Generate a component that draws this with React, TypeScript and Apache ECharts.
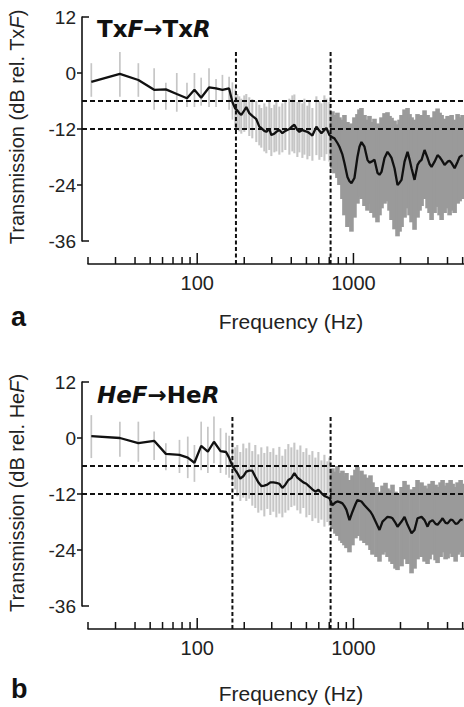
import React, { useEffect, useRef } from "react";
import * as echarts from "echarts";

// ---------- axes and reference marks ----------
const yTickValues = [12, 0, -12, -24, -36];
const yEndTicks = [12, -36];
const xMajorTicks = [100, 1000];
const xMinorTicks = [20, 30, 40, 50, 60, 70, 80, 90, 200, 300, 400, 500, 600, 700, 800, 900, 2000, 3000, 4000, 5000];
const xLabelValues = [100, 1000];
const refLevels = [-6, -12];
const cutoffTopLevel = 4.5;
const topCutoffs = [177, 714];
const botCutoffs = [168, 714];
const darkFromHz = 714;
const X_MIN = 20;
const X_MAX = 5100;
const Y_MIN = -36;
const Y_MAX = 12;

// ---------- panel a : TxF -> TxR ----------
const topFreq = [
  21, 32, 42, 53, 63, 74, 86, 96, 106, 119, 132, 145, 160, 168, 175,
  180.5, 185.9, 191.5, 200.1, 206.1, 215.4, 225.2, 238.9, 249.7, 257.2, 268.9, 276.9, 289.4, 298.2, 311.7,
  321.0, 335.5, 350.7, 366.5, 388.8, 406.4, 418.6, 437.5, 450.7, 471.1, 485.3, 507.3, 522.4, 546.0, 579.2,
  605.4, 623.6, 651.8, 671.4, 701.8,
  733.5, 755.5, 789.7, 813.5, 850.3, 875.8, 915.4, 943.0, 971.0, 1014.8, 1060.7, 1092.7, 1125.4, 1176.4,
  1229.6, 1266.6, 1304.5, 1363.5, 1425.0, 1467.9, 1512.0, 1580.4, 1651.9, 1701.6, 1752.5, 1831.7, 1914.6,
  1972.2, 2031.4, 2123.3, 2219.4, 2285.7, 2354.1, 2460.2, 2571.5, 2648.6, 2728.0, 2851.4, 2981.2, 3070.4,
  3162.3, 3305.3, 3455.2, 3558.8, 3665.5, 3831.2, 4004.7, 4124.6, 4248.6, 4440.9, 4641.6, 4780.6, 4996.9,
];
const topMean = [
  -1.9, -0.2, -1.5, -3.6, -3.5, -4.5, -5.4, -3.6, -5.3, -3.1, -3.3, -3.6, -3.3, -6.2, -7.6,
  -8.0, -8.6, -9.0, -8.0, -7.3, -8.6, -9.2, -9.9, -11.5, -11.8, -12.4, -12.6, -12.0, -13.3, -13.0,
  -12.6, -12.2, -12.9, -12.4, -12.0, -11.4, -11.1, -12.2, -12.6, -12.2, -12.4, -12.6, -12.9, -13.4, -11.5,
  -12.4, -12.9, -12.2, -11.8, -13.3,
  -13.8, -14.0, -15.0, -15.8, -17.5, -19.3, -22.3, -23.2, -23.6, -22.5, -18.0, -15.8, -14.8, -15.8,
  -18.6, -19.2, -19.0, -18.6, -21.4, -21.8, -21.2, -18.2, -16.9, -17.5, -18.2, -20.4, -24.0,
  -23.5, -22.9, -19.0, -16.9, -18.5, -20.4, -22.9, -19.7, -19.0, -18.6, -16.5, -18.2, -19.5,
  -20.1, -19.0, -17.6, -18.0, -18.6, -19.7, -19.0, -18.8, -19.3, -20.4, -19.0, -18.0, -17.6,
];
const topHi = [
  2.1, 4.5, 2.1, 1.0, -2.1, 0.0, -2.1, 0.0, -1.0, 1.0, -1.3, -0.4, -0.8, -2.0, -3.5,
  -4.5, -5.0, -5.5, -4.8, -4.5, -5.2, -5.6, -6.0, -6.8, -7.5, -6.5, -7.2, -6.0, -7.5, -6.8,
  -6.0, -7.2, -6.5, -6.0, -5.5, -4.8, -4.6, -6.2, -5.8, -6.5, -5.5, -7.0, -6.0, -7.5, -5.0,
  -6.0, -6.5, -4.8, -5.5, -6.2,
  -8.2, -9.0, -8.5, -9.5, -10.0, -9.0, -10.5, -11.5, -10.8, -9.5, -8.8, -7.8, -7.5, -9.0,
  -10.0, -9.2, -10.5, -9.8, -10.8, -11.0, -9.5, -8.6, -8.4, -9.2, -9.6, -10.2, -11.0,
  -10.0, -9.0, -7.8, -7.5, -8.8, -9.5, -10.0, -8.8, -9.2, -9.0, -8.0, -9.0, -9.8,
  -9.5, -8.2, -7.6, -8.5, -9.0, -9.8, -9.2, -9.5, -9.0, -10.0, -8.8, -9.5, -9.0,
];
const topLo = [
  -5.1, -5.1, -5.1, -7.9, -7.9, -8.3, -7.3, -7.3, -7.0, -7.3, -7.3, -5.8, -7.9, -10.0, -11.5,
  -12.0, -12.5, -13.0, -12.6, -12.0, -13.5, -14.0, -14.8, -15.5, -16.0, -16.8, -17.2, -16.5, -17.8, -17.0,
  -16.8, -17.5, -17.0, -16.5, -17.5, -16.8, -17.2, -18.0, -17.0, -18.2, -17.5, -18.5, -17.8, -18.8, -17.6,
  -18.6, -18.0, -18.8, -17.4, -19.0,
  -20.5, -21.5, -22.5, -24.0, -27.0, -30.5, -33.0, -32.0, -34.0, -31.0, -28.0, -26.5, -27.0, -28.5,
  -29.5, -28.0, -30.0, -31.0, -32.0, -30.5, -29.0, -28.0, -27.5, -29.5, -31.5, -33.5, -35.0,
  -34.0, -33.0, -31.0, -29.0, -30.5, -32.0, -33.6, -31.0, -29.5, -28.5, -27.0, -29.0, -30.0,
  -31.5, -30.0, -28.7, -30.5, -31.5, -30.0, -29.0, -30.5, -29.5, -30.0, -28.0, -27.5, -27.0,
];

// ---------- panel b : HeF -> HeR ----------
const botFreq = [
  21, 32, 42, 53, 63, 77, 87, 96, 106, 117, 128, 141, 153, 160, 168,
  175.2, 180.5, 188.7, 197.2, 206.1, 215.4, 225.2, 235.4, 246.0, 257.2, 268.9, 281.0, 293.8, 307.1, 321.0,
  335.5, 350.7, 366.5, 383.1, 400.5, 418.6, 437.5, 457.4, 478.1, 499.7, 522.4, 546.0, 570.7, 596.5, 623.6,
  651.8, 681.3, 701.8,
  733.5, 766.8, 789.7, 825.4, 850.3, 875.8, 902.1, 943.0, 985.4, 1030.0, 1060.7, 1125.4, 1176.4, 1229.6,
  1285.4, 1323.8, 1404.2, 1467.9, 1534.5, 1604.2, 1651.9, 1726.9, 1778.3, 1858.9, 1914.6, 2031.4, 2123.3,
  2219.4, 2354.1, 2460.2, 2571.5, 2728.0, 2851.4, 2981.2, 3070.4, 3209.9, 3354.9, 3455.2, 3611.7, 3719.8,
  3888.0, 4004.7, 4186.4, 4311.7, 4507.3, 4641.6, 4852.0, 4996.9,
];
const botMean = [
  0.4, 0.0, -1.1, -0.6, -3.4, -3.6, -4.2, -5.3, -1.7, -2.9, -0.8, -2.8, -3.0, -4.2, -6.0,
  -6.9, -7.5, -8.7, -8.2, -7.2, -7.0, -7.0, -8.3, -9.5, -10.3, -10.2, -10.0, -9.5, -9.5, -9.6,
  -9.8, -10.7, -10.0, -9.0, -8.6, -7.5, -8.5, -9.0, -9.5, -9.8, -10.4, -11.0, -11.5, -11.1, -11.8,
  -12.4, -12.7, -12.9,
  -14.4, -13.8, -13.6, -13.8, -14.0, -14.6, -15.4, -17.6, -15.8, -14.2, -13.3, -13.6, -14.4, -15.1,
  -15.8, -16.5, -18.3, -19.7, -17.9, -17.3, -16.9, -17.0, -17.2, -18.2, -19.0, -17.9, -16.9,
  -18.6, -20.4, -19.7, -17.2, -16.9, -17.6, -19.0, -18.0, -17.6, -18.4, -18.6, -17.8, -17.2,
  -18.2, -18.3, -17.5, -17.6, -18.4, -18.3, -17.5, -17.6,
];
const botHi = [
  4.9, 3.5, 3.5, 1.4, -1.1, -0.4, 0.3, -1.5, 3.5, 2.4, 4.6, 2.1, 1.1, 0.5, -1.0,
  -2.0, -1.5, -3.0, -1.2, -2.2, -1.0, -2.8, -1.5, -3.5, -2.0, -3.2, -1.8, -3.0, -2.2, -3.6,
  -1.9, -3.8, -2.4, -1.3, -2.0, -1.0, -2.5, -1.6, -3.0, -2.2, -3.6, -2.8, -4.2, -3.0, -4.8,
  -3.6, -5.0, -4.2,
  -6.5, -7.2, -6.0, -7.5, -7.0, -8.2, -7.5, -9.0, -8.0, -6.8, -6.2, -7.0, -7.8, -8.5,
  -8.0, -9.5, -10.5, -11.5, -10.2, -9.6, -10.8, -11.2, -10.0, -11.5, -12.0, -10.5, -9.2,
  -10.0, -11.0, -10.5, -9.0, -9.5, -10.2, -10.8, -9.8, -9.2, -10.0, -10.5, -9.5, -9.0,
  -10.2, -9.6, -9.0, -9.8, -10.5, -9.5, -9.0, -9.8,
];
const botLo = [
  -4.3, -4.0, -5.1, -4.7, -6.9, -7.5, -8.6, -9.4, -6.9, -7.5, -5.4, -7.5, -7.9, -8.5, -10.0,
  -11.0, -12.5, -13.5, -12.8, -13.5, -13.0, -14.5, -15.0, -16.0, -15.5, -16.8, -15.2, -16.5, -15.8, -17.0,
  -16.2, -17.0, -16.0, -15.5, -14.8, -14.5, -15.5, -16.2, -15.0, -17.0, -16.5, -17.8, -17.2, -18.2, -17.5,
  -19.0, -18.0, -18.8,
  -19.5, -20.5, -21.0, -22.0, -22.5, -23.0, -23.6, -24.5, -23.0, -21.5, -21.0, -22.0, -22.5, -23.0,
  -24.0, -25.0, -25.5, -26.5, -25.0, -24.5, -25.5, -26.5, -27.0, -28.0, -28.3, -27.5, -26.0,
  -27.0, -29.0, -28.0, -26.0, -25.5, -26.5, -27.0, -26.0, -25.0, -26.2, -26.8, -25.5, -24.5,
  -26.0, -25.8, -24.8, -25.5, -26.5, -25.0, -24.5, -25.5,
];

// ---------- layout / style ----------
const FONT = "'Liberation Sans', Arial, Helvetica, sans-serif";
const TITLE_FONT = "'DejaVu Sans', sans-serif";
const INK = "#111";
const TEXT = "#222";
const GRID_LEFT = 88;
const Y_AXIS_OFFSET = 6;
const X_AXIS_OFFSET = 23;
const GRID_TOPS = [17, 382];
const GRID_HEIGHT = 224;

function panelSeries(i: number, freq: number[], mean: number[], hi: number[], lo: number[], cutoffs: number[]) {
  const common = { xAxisIndex: i, yAxisIndex: i, silent: true, clip: false };
  return [
    {
      ...common,
      type: "custom",
      z: 1,
      data: freq.map((f, k) => [f, lo[k], hi[k]]),
      encode: { x: 0, y: [1, 2] },
      renderItem: (_p: any, api: any) => {
        const f = api.value(0);
        const a = api.coord([f, api.value(1)]);
        const b = api.coord([f, api.value(2)]);
        const dark = f > darkFromHz;
        const mid = f > 175 && !dark;
        return {
          type: "line",
          shape: { x1: a[0], y1: a[1], x2: b[0], y2: b[1] },
          style: { stroke: dark ? "#9a9a9a" : "#c6c6c6", lineWidth: dark ? 4.6 : mid ? 2.1 : 1.7 },
        };
      },
    },
    {
      ...common,
      type: "custom",
      z: 2,
      data: refLevels.map((v) => [X_MIN, v]),
      encode: { x: 0, y: 1 },
      renderItem: (_p: any, api: any) => {
        const v = api.value(1);
        const a = api.coord([X_MIN, v]);
        const b = api.coord([X_MAX, v]);
        return {
          type: "line",
          shape: { x1: a[0] - Y_AXIS_OFFSET, y1: a[1], x2: b[0], y2: b[1] },
          style: { stroke: INK, lineWidth: 1.8, lineDash: [5, 3] },
        };
      },
    },
    {
      ...common,
      type: "custom",
      z: 2,
      data: cutoffs.map((f) => [f, cutoffTopLevel]),
      encode: { x: 0, y: 1 },
      renderItem: (_p: any, api: any) => {
        const f = api.value(0);
        const a = api.coord([f, api.value(1)]);
        const b = api.coord([f, Y_MIN]);
        return {
          type: "line",
          shape: { x1: a[0], y1: a[1], x2: b[0], y2: b[1] + X_AXIS_OFFSET },
          style: { stroke: INK, lineWidth: 2, lineDash: [4, 2.5] },
        };
      },
    },
    {
      ...common,
      type: "line",
      z: 3,
      data: freq.map((f, k) => [f, mean[k]]),
      showSymbol: false,
      symbol: "none",
      lineStyle: { color: INK, width: 2.3 },
    },
    {
      ...common,
      type: "custom",
      z: 4,
      data: [...xMinorTicks.map((f) => [f, Y_MIN, 0]), ...xMajorTicks.map((f) => [f, Y_MIN, 1])],
      encode: { x: 0, y: 1 },
      renderItem: (_p: any, api: any) => {
        const p = api.coord([api.value(0), Y_MIN]);
        const y = p[1] + X_AXIS_OFFSET;
        const len = api.value(2) ? 11 : 7;
        return {
          type: "line",
          shape: { x1: p[0], y1: y, x2: p[0], y2: y - len },
          style: { stroke: INK, lineWidth: 1.5 },
        };
      },
    },
    {
      ...common,
      type: "custom",
      z: 4,
      data: yTickValues.map((v) => [X_MIN, v]),
      encode: { x: 0, y: 1 },
      renderItem: (_p: any, api: any) => {
        const v = api.value(1);
        const p = api.coord([X_MIN, v]);
        const ax = p[0] - Y_AXIS_OFFSET;
        const isEnd = yEndTicks.indexOf(v) >= 0;
        return {
          type: "line",
          shape: isEnd ? { x1: ax, y1: p[1], x2: ax + 7, y2: p[1] } : { x1: ax - 5, y1: p[1], x2: ax, y2: p[1] },
          style: { stroke: INK, lineWidth: 1.5 },
        };
      },
    },
  ];
}

function buildOption() {
  const grid = GRID_TOPS.map((top) => ({ left: GRID_LEFT, right: 0, top, height: GRID_HEIGHT }));
  const xAxis = [0, 1].map((i) => ({
    type: "log",
    logBase: 10,
    gridIndex: i,
    min: X_MIN,
    max: X_MAX,
    offset: X_AXIS_OFFSET,
    axisLine: { show: true, onZero: false, lineStyle: { color: INK, width: 1.6 } },
    axisTick: { show: false },
    minorTick: { show: false },
    splitLine: { show: false },
    axisLabel: {
      fontSize: 20,
      color: TEXT,
      fontFamily: FONT,
      margin: 9,
      showMinLabel: false,
      showMaxLabel: false,
      formatter: (v: number) => {
        const m = xLabelValues.find((t) => Math.abs(v - t) / t < 0.01);
        return m ? String(m) : "";
      },
    },
  }));
  const yAxis = [0, 1].map((i) => ({
    type: "value",
    gridIndex: i,
    min: Y_MIN,
    max: Y_MAX,
    interval: 12,
    offset: Y_AXIS_OFFSET,
    axisLine: { show: true, onZero: false, lineStyle: { color: INK, width: 1.6 } },
    axisTick: { show: false },
    splitLine: { show: false },
    axisLabel: { fontSize: 19, color: TEXT, fontFamily: FONT, margin: 6 },
  }));

  const nameRich = {
    n: { fontFamily: FONT, fontSize: 20, fill: TEXT },
    i: { fontFamily: FONT, fontSize: 20, fill: TEXT, fontStyle: "italic" },
  };
  const titleRich = {
    b: { fontFamily: TITLE_FONT, fontSize: 23, fontWeight: "bold", fill: INK },
    bi: { fontFamily: TITLE_FONT, fontSize: 23, fontWeight: "bold", fontStyle: "italic", fill: INK },
  };

  const graphic = [
    { type: "text", x: 97, y: 29, style: { text: "{b|Tx}{bi|F}{b|→Tx}{bi|R}", rich: titleRich, verticalAlign: "middle", align: "left" } },
    { type: "text", x: 97, y: 395, style: { text: "{bi|HeF}{b|→He}{bi|R}", rich: titleRich, verticalAlign: "middle", align: "left" } },
    { type: "text", x: 17, y: 127, rotation: Math.PI / 2, style: { text: "{n|Transmission (dB rel. Tx}{i|F}{n|)}", rich: nameRich, align: "center", verticalAlign: "middle" } },
    { type: "text", x: 17, y: 493, rotation: Math.PI / 2, style: { text: "{n|Transmission (dB rel. He}{i|F}{n|)}", rich: nameRich, align: "center", verticalAlign: "middle" } },
    { type: "text", x: 291, y: 321, style: { text: "Frequency (Hz)", fontFamily: FONT, fontSize: 21, fill: TEXT, align: "center", verticalAlign: "middle" } },
    { type: "text", x: 291, y: 693, style: { text: "Frequency (Hz)", fontFamily: FONT, fontSize: 21, fill: TEXT, align: "center", verticalAlign: "middle" } },
    { type: "text", x: 11, y: 317, style: { text: "a", fontFamily: FONT, fontSize: 27, fontWeight: "bold", fill: INK, align: "left", verticalAlign: "middle" } },
    { type: "text", x: 11, y: 689, style: { text: "b", fontFamily: FONT, fontSize: 27, fontWeight: "bold", fill: INK, align: "left", verticalAlign: "middle" } },
  ];

  return {
    animation: false,
    backgroundColor: "#fff",
    grid,
    xAxis,
    yAxis,
    graphic,
    series: [
      ...panelSeries(0, topFreq, topMean, topHi, topLo, topCutoffs),
      ...panelSeries(1, botFreq, botMean, botHi, botLo, botCutoffs),
    ],
  };
}

export default function App() {
  const ref = useRef<HTMLDivElement>(null);
  useEffect(() => {
    if (!ref.current) return;
    const chart = echarts.init(ref.current, undefined, { renderer: "svg" });
    chart.setOption(buildOption() as any);
    return () => chart.dispose();
  }, []);
  return <div ref={ref} style={{ position: "absolute", left: 0, top: 0, width: 464, height: 707 }} />;
}
